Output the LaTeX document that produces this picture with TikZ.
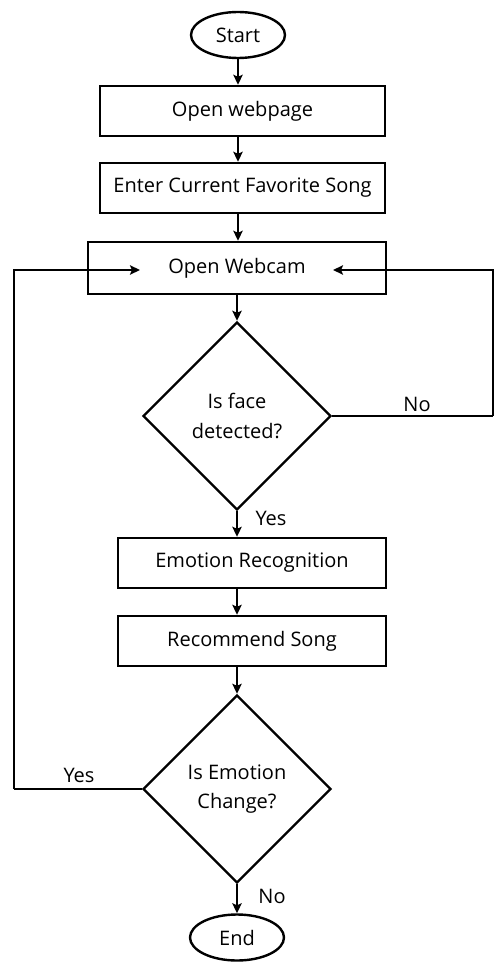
\documentclass[tikz,border=0pt]{standalone}
\usepackage{fontspec}
\setmainfont{Open Sans}
\usepackage{tikz}
\usetikzlibrary{arrows.meta,shapes.geometric}
\tikzset{
  ar/.style={-{Stealth[length=7.5pt,width=7pt,inset=1.5pt]},line width=1.8pt},
  ln/.style={line width=1.8pt},
  bx/.style={rectangle,draw,line width=1.8pt,minimum width=213.75pt,minimum height=37.5pt,inner sep=2pt,font={\fontsize{15}{19}\selectfont}},
  term/.style={ellipse,draw,line width=1.8pt,minimum width=70.5pt,minimum height=34.5pt,inner sep=0pt,font={\fontsize{15}{19}\selectfont}},
  dec/.style={diamond,draw,line width=1.8pt,minimum width=141pt,minimum height=141pt,inner sep=0pt,align=center,font={\fontsize{15}{22}\selectfont}},
  lb/.style={font={\fontsize{15}{19}\selectfont}}
}
\begin{document}
\begin{tikzpicture}[x=0.75pt,y=-0.75pt]
\useasboundingbox (0,0) rectangle (495,966);
\node[term] (start) at (238,35) {Start};
\node[bx] (web) at (242.5,111) {Open webpage};
\node[bx] (song) at (242.5,188) {Enter Current Favorite Song};
\node[bx,minimum width=223.5pt,minimum height=39pt] (cam) at (237,268) {Open Webcam};
\node[dec] (face) at (237,416) {Is face\\detected?};
\node[bx,minimum width=201pt] (emo) at (252,563) {Emotion Recognition};
\node[bx,minimum width=201pt] (rec) at (252,641) {Recommend Song};
\node[dec] (chg) at (237,789) {Is Emotion\\Change?};
\node[term] (end) at (237,937.5) {End};
\coordinate (inL) at (140,270);
\coordinate (inR) at (333,270);
\coordinate (cR) at (493,416);
\coordinate (cL) at (14,789);
\draw[ar] (start.south) -- (start.south |- web.north);
\draw[ar] (start.south |- web.south) -- (start.south |- song.north);
\draw[ar] (start.south |- song.south) -- (start.south |- cam.north);
\draw[ar] (cam.south -| face.north) -- (face.north);
\draw[ar] (face.south) -- (face.south |- emo.north);
\draw[ar] (face.south |- emo.south) -- (face.south |- rec.north);
\draw[ar] (chg.north |- rec.south) -- (chg.north);
\draw[ar] (chg.south) -- (end.north);
\draw[ln] (face.east) -- (cR);
\draw[ar] (cR) -- (cR |- inR) -- (inR);
\draw[ln] (chg.west) -- (cL);
\draw[ar] (cL) -- (cL |- inL) -- (inL);
\node[lb] (no1) at (417,404) {No};
\node[lb] (yes1) at (271,518) {Yes};
\node[lb] (yes2) at (79,775) {Yes};
\node[lb] (no2) at (272,896) {No};
\end{tikzpicture}
\end{document}
